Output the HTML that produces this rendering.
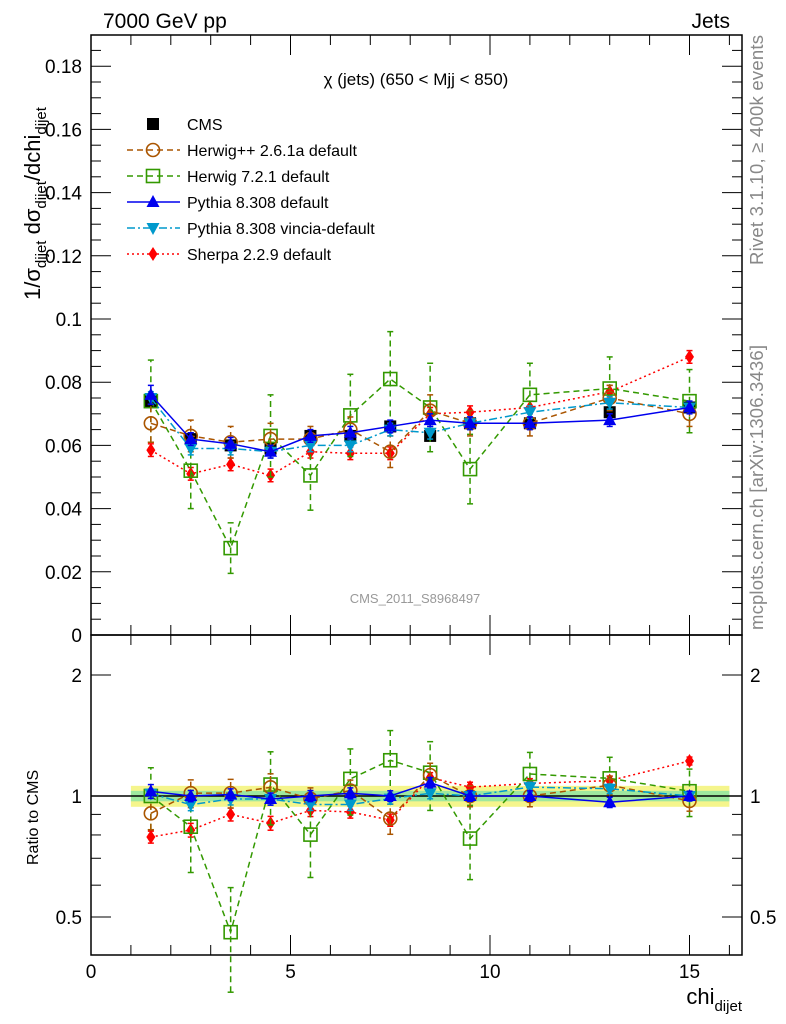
<!DOCTYPE html>
<html><head><meta charset="utf-8"><style>
body{margin:0;background:#fff;}
svg{display:block;font-family:"Liberation Sans",sans-serif;}
</style></head><body>
<svg id="c" width="786" height="1024" viewBox="0 0 786 1024" xmlns="http://www.w3.org/2000/svg"></svg>
<script>
const xs=[1.5,2.5,3.5,4.5,5.5,6.5,7.5,8.5,9.5,11,13,15];
const cms=[0.074,0.062,0.060,0.059,0.063,0.063,0.066,0.063,0.067,0.067,0.0705,0.072];
const cmsErr=[0.002,0.001,0.001,0.001,0.001,0.001,0.001,0.001,0.001,0.001,0.001,0.001];
const herwigpp=[0.067,0.063,0.061,0.062,0.062,0.065,0.058,0.071,0.067,0.067,0.075,0.070];
const herwigppErr=[0.006,0.005,0.005,0.005,0.004,0.004,0.005,0.005,0.004,0.004,0.004,0.004];
const herwig7=[0.074,0.052,0.0275,0.063,0.0505,0.0695,0.081,0.072,0.0525,0.076,0.078,0.074];
const herwig7Err=[0.013,0.012,0.008,0.013,0.011,0.013,0.015,0.014,0.011,0.010,0.010,0.010];
const pythia=[0.076,0.062,0.0605,0.058,0.063,0.064,0.066,0.068,0.067,0.067,0.068,0.072];
const pythiaErr=[0.003,0.002,0.002,0.002,0.002,0.002,0.002,0.002,0.002,0.002,0.002,0.002];
const vincia=[0.075,0.059,0.059,0.058,0.060,0.060,0.065,0.064,0.067,0.0705,0.0735,0.072];
const vinciaErr=[0.002,0.002,0.002,0.002,0.002,0.002,0.002,0.002,0.002,0.002,0.002,0.002];
const sherpa=[0.0585,0.051,0.054,0.0505,0.058,0.0575,0.0575,0.070,0.0705,0.072,0.077,0.088];
const sherpaErr=[0.002,0.002,0.002,0.002,0.002,0.002,0.002,0.002,0.002,0.002,0.002,0.002];
const yTicks=[0,0.02,0.04,0.06,0.08,0.1,0.12,0.14,0.16,0.18];
const yTickLabels=["0","0.02","0.04","0.06","0.08","0.1","0.12","0.14","0.16","0.18"];
const xTicks=[0,5,10,15];
const rTicks=[0.5,1,2];

const svg=document.getElementById('c');
const NS='http://www.w3.org/2000/svg';
const L=91,R=742,T=35,M=635,B=955;
const X=v=>L+v*39.9;
const Y=v=>M-v*3160;
const RY=r=>796-121*Math.log2(r);
function el(t,a,p){const e=document.createElementNS(NS,t);for(const k in a)e.setAttribute(k,a[k]);(p||svg).appendChild(e);return e;}
function txt(x,y,s,a){const e=el('text',Object.assign({x:x,y:y},a||{}));e.textContent=s;return e;}

const band=el('rect',{x:X(1),y:RY(1.06),width:X(16)-X(1),height:RY(0.94)-RY(1.06),fill:'#f5f58c'});

const band2=el('rect',{x:X(1),y:RY(1.03),width:X(16)-X(1),height:RY(0.97)-RY(1.03),fill:'#9ee89e'});

const one=el('line',{x1:L,x2:R,y1:RY(1),y2:RY(1),stroke:'#000','stroke-width':1.5});


const f1=el('rect',{x:L,y:T,width:R-L,height:M-T,fill:'none',stroke:'#000','stroke-width':1.5});

const f2=el('rect',{x:L,y:M,width:R-L,height:B-M,fill:'none',stroke:'#000','stroke-width':1.5});


const tg=el('g',{stroke:'#000','stroke-width':1});

for(let v=0;v<=0.19;v+=0.005){const y=Y(v);if(y<T)break;const maj=Math.abs(v/0.02-Math.round(v/0.02))<1e-6;const l=maj?20:10;
 el('line',{x1:L,x2:L+l,y1:y,y2:y},tg);el('line',{x1:R,x2:R-l,y1:y,y2:y},tg);}
for(let v=0;v<=16;v++){const x=X(v);const maj=v%5==0;const l=maj?20:10;
 el('line',{x1:x,x2:x,y1:T,y2:T+l},tg);el('line',{x1:x,x2:x,y1:M,y2:M-l},tg);el('line',{x1:x,x2:x,y1:M,y2:M+l},tg);el('line',{x1:x,x2:x,y1:B,y2:B-l},tg);}
[0.5,0.6,0.7,0.8,0.9,1,2].forEach(r=>{const y=RY(r);const l=(r==0.5||r==1||r==2)?20:10;el('line',{x1:L,x2:L+l,y1:y,y2:y},tg);el('line',{x1:R,x2:R-l,y1:y,y2:y},tg);});

yTicks.forEach((v,i)=>{const t=txt(82,Y(v)+7,yTickLabels[i],{'text-anchor':'end','font-size':19});
 });
xTicks.forEach(v=>{const t=txt(X(v),978,String(v),{'text-anchor':'middle','font-size':19});
 });
rTicks.forEach(r=>{const t=txt(82,RY(r)+7,String(r),{'text-anchor':'end','font-size':19});const t2=txt(750,RY(r)+7,String(r),{'font-size':19});});

let t;
t=txt(103,28,'7000 GeV pp',{'font-size':21});
t=txt(730,28,'Jets',{'font-size':21,'text-anchor':'end'});
t=txt(416,85,'χ (jets) (650 < Mjj <  850)',{'font-size':17,'text-anchor':'middle'});
t=txt(415,603,'CMS_2011_S8968497',{'font-size':13,'text-anchor':'middle',fill:'#999'});
t=el('text',{x:0,y:0,'font-size':18.5,fill:'#888',transform:'translate(763,265) rotate(-90)',textLength:230});t.textContent='Rivet 3.1.10, ≥ 400k events';
t=el('text',{x:0,y:0,'font-size':18.5,fill:'#888',transform:'translate(763,630) rotate(-90)',textLength:285});t.textContent='mcplots.cern.ch [arXiv:1306.3436]';
t=el('text',{x:0,y:0,'font-size':22,transform:'translate(40,300) rotate(-90)'});
t.innerHTML='1/σ<tspan font-size="15" dy="6">dijet</tspan><tspan dy="-6"> dσ</tspan><tspan font-size="15" dy="6">dijet</tspan><tspan dy="-6">/dchi</tspan><tspan font-size="15" dy="6">dijet</tspan>';

t=el('text',{x:0,y:0,'font-size':16,transform:'translate(38,865) rotate(-90)'});t.textContent='Ratio to CMS';
t=el('text',{x:742,y:1004,'font-size':22,'text-anchor':'end'});t.innerHTML='chi<tspan font-size="15" dy="7">dijet</tspan>';

function marker(g,type,x,y,col){
 const s=6;
 if(type=='sq')el('rect',{x:x-s,y:y-s,width:2*s,height:2*s,fill:'#000'},g);
 else if(type=='circ')el('circle',{cx:x,cy:y,r:6.5,fill:'none',stroke:col,'stroke-width':1.6},g);
 else if(type=='osq')el('rect',{x:x-6.5,y:y-6.5,width:13,height:13,fill:'none',stroke:col,'stroke-width':1.6},g);
 else if(type=='tri')el('polygon',{points:`${x},${y-7} ${x-6.5},${y+5} ${x+6.5},${y+5}`,fill:col},g);
 else if(type=='itri')el('polygon',{points:`${x},${y+7} ${x-6.5},${y-5} ${x+6.5},${y-5}`,fill:col},g);
 else if(type=='dia')el('polygon',{points:`${x},${y-7} ${x-4.5},${y} ${x},${y+7} ${x+4.5},${y}`,fill:col},g);
}
const series=[
 {n:'sherpa',v:sherpa,e:sherpaErr,c:'#ff0000',d:'2,3',m:'dia'},
 {n:'herwig7',v:herwig7,e:herwig7Err,c:'#339900',d:'6,4',m:'osq'},
 {n:'herwigpp',v:herwigpp,e:herwigppErr,c:'#aa5500',d:'6,4',m:'circ'},
 {n:'vincia',v:vincia,e:vinciaErr,c:'#0099cc',d:'8,3,2,3',m:'itri'},
 {n:'pythia',v:pythia,e:pythiaErr,c:'#0000ee',d:'',m:'tri'},
];
function draw(s,main){
 const g=el('g',{});
 
 const py=(i,v)=>main?Y(v):RY(v/cms[i]);
 const pts=xs.map((x,i)=>X(x)+','+py(i,s.v[i])).join(' ');
 el('polyline',{points:pts,fill:'none',stroke:s.c,'stroke-width':1.5,'stroke-dasharray':s.d},g);
 xs.forEach((x,i)=>{const y1=py(i,s.v[i]-s.e[i]),y2=py(i,s.v[i]+s.e[i]);
  el('line',{x1:X(x),x2:X(x),y1:y1,y2:y2,stroke:s.c,'stroke-width':1.5,'stroke-dasharray':s.d},g);
  el('line',{x1:X(x)-3,x2:X(x)+3,y1:y1,y2:y1,stroke:s.c,'stroke-width':1.5},g);
  el('line',{x1:X(x)-3,x2:X(x)+3,y1:y2,y2:y2,stroke:s.c,'stroke-width':1.5},g);
  marker(g,s.m,X(x),py(i,s.v[i]),s.c);});
}
const cg=el('g',{});
xs.forEach((x,i)=>{el('line',{x1:X(x),x2:X(x),y1:Y(cms[i]-cmsErr[i]),y2:Y(cms[i]+cmsErr[i]),stroke:'#000','stroke-width':1.5},cg);marker(cg,'sq',X(x),Y(cms[i]),'#000');});
series.forEach(s=>{draw(s,true);draw(s,false);});

const lg=el('g',{});
const leg=[['sq','#000','','CMS'],['circ','#aa5500','6,4','Herwig++ 2.6.1a default'],['osq','#339900','6,4','Herwig 7.2.1 default'],['tri','#0000ee','','Pythia 8.308 default'],['itri','#0099cc','8,3,2,3','Pythia 8.308 vincia-default'],['dia','#ff0000','2,3','Sherpa 2.2.9 default']];
leg.forEach((l,i)=>{const y=124+i*26;const g=el('g',{},lg);
 
 if(i>0)el('line',{x1:127,x2:180,y1:y,y2:y,stroke:l[1],'stroke-width':1.5,'stroke-dasharray':l[2]},g);
 marker(g,l[0],153,y,l[1]);
 txt(187,y+6,l[3],{'font-size':16},g);});
</script>
</body></html>
